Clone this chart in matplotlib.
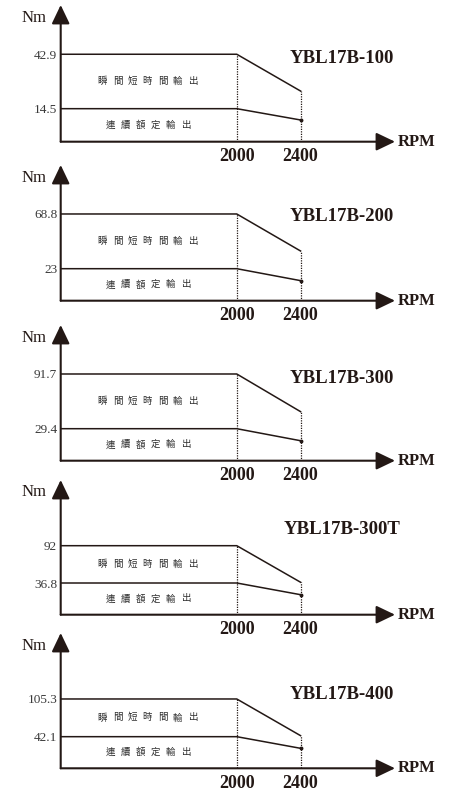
import numpy as np
import matplotlib
matplotlib.use("Agg")
import matplotlib.pyplot as plt

# motor models and torque values (Nm)
models = ["YBL17B-100", "YBL17B-200", "YBL17B-300", "YBL17B-300T", "YBL17B-400"]
peak_torque = [42.9, 68.8, 91.7, 92, 105.3]
peak_labels = ["42.9", "68.8", "91.7", "92", "105.3"]
rated_torque = [14.5, 23, 29.4, 36.8, 42.1]
rated_labels = ["14.5", "23", "29.4", "36.8", "42.1"]
# values at 2400 rpm
peak_end = [23.7, 37.8, 48.8, 37.9, 43.8]
rated_end = [8.6, 13.0, 15.7, 19.5, 22.6]
rpm_pts = [0, 2000, 2400]
rpm_ticks = [2000, 2400]

peak_text = "瞬間短時間輸出"
rated_text = "連續額定輸出"

# layout (schematic drawing, so each panel has its own scale)
ylims = [(-2.73, 68.6), (-3.79, 109.8), (-7.05, 147.5), (-10.1, 189.2), (-10.9, 215.9)]
axis_px = [141.7, 300.7, 460.7, 614.7, 768.3]
tip_px = [5, 165, 325, 480, 633]
title_y = [0.605, 0.624, 0.609, 0.629, 0.542]
xlim = (896, 2992)
char_step = 94  # spacing of the Chinese characters, in rpm units

W, H = 451, 792
col = "#231815"
serif = "Liberation Serif"
cjk = ["Noto Sans CJK TC", "DejaVu Sans"]


def spaced_text(ax, xc, y, txt):
    n = len(txt)
    for k, ch in enumerate(txt):
        ax.text(xc + (k - (n - 1) / 2) * char_step, y, ch, ha="center", va="center",
                family=cjk, fontsize=6.8, color="#2e2e2e")


fig = plt.figure(figsize=(W / 100, H / 100), dpi=100)

for i in range(len(models)):
    bottom = 1 - axis_px[i] / H
    height = (axis_px[i] - tip_px[i]) / H
    ax = fig.add_axes([60.7 / W, bottom, 334.3 / W, height])
    ax.set_facecolor("none")
    ax.set_xlim(*xlim)
    ax.set_ylim(*ylims[i])
    for s in ax.spines.values():
        s.set_visible(False)

    lo = ylims[i][0]
    ax.plot(rpm_pts, [peak_torque[i], peak_torque[i], peak_end[i]], color=col, lw=1.1)
    ax.plot(rpm_pts, [rated_torque[i], rated_torque[i], rated_end[i]], color=col, lw=1.1)
    ax.plot([2400], [rated_end[i]], 'o', color=col, ms=1.8)
    ax.vlines(rpm_ticks, lo, [peak_torque[i], peak_end[i]], colors=col,
              linestyles=(0, (1, 1)), lw=0.9)

    # axis arrows
    arw = dict(arrowstyle="-|>,head_length=1.15,head_width=0.55", mutation_scale=10,
               lw=1.5, color=col, shrinkA=0, shrinkB=0)
    ax.annotate("", xy=(1, 0), xytext=(0, 0), xycoords="axes fraction", arrowprops=arw)
    ax.annotate("", xy=(0, 1), xytext=(0, 0), xycoords="axes fraction", arrowprops=arw)

    ax.annotate("RPM", xy=(1, 0), xycoords="axes fraction", xytext=(2, 0),
                textcoords="offset points", ha="left", va="center",
                fontfamily=serif, fontweight="bold", fontsize=12, color=col)
    ax.annotate("Nm", xy=(0, 1), xycoords="axes fraction", xytext=(-10, -9),
                textcoords="offset points", ha="right", va="center",
                fontfamily=serif, fontsize=12, color=col)

    ax.set_yticks([peak_torque[i], rated_torque[i]], [peak_labels[i], rated_labels[i]])
    ax.set_xticks(rpm_ticks, [str(r) for r in rpm_ticks])
    ax.tick_params(axis="y", length=0, pad=2.5, labelsize=9.5, labelcolor="#3a3a3a")
    ax.tick_params(axis="x", length=0, pad=4.5, labelsize=13, labelcolor=col)
    for lab in ax.get_yticklabels():
        lab.set_fontfamily(serif)
    for lab in ax.get_xticklabels():
        lab.set_fontfamily(serif)
        lab.set_fontweight("bold")

    ax.text(2660, title_y[i], models[i], transform=ax.get_xaxis_transform(),
            ha="center", va="center", fontfamily=serif, fontweight="bold",
            fontsize=13.5, color=col)

    spaced_text(ax, 1440, (peak_torque[i] + rated_torque[i]) / 2, peak_text)
    spaced_text(ax, 1445, (rated_torque[i] + lo) / 2, rated_text)

fig.savefig("out.png", dpi=100)
